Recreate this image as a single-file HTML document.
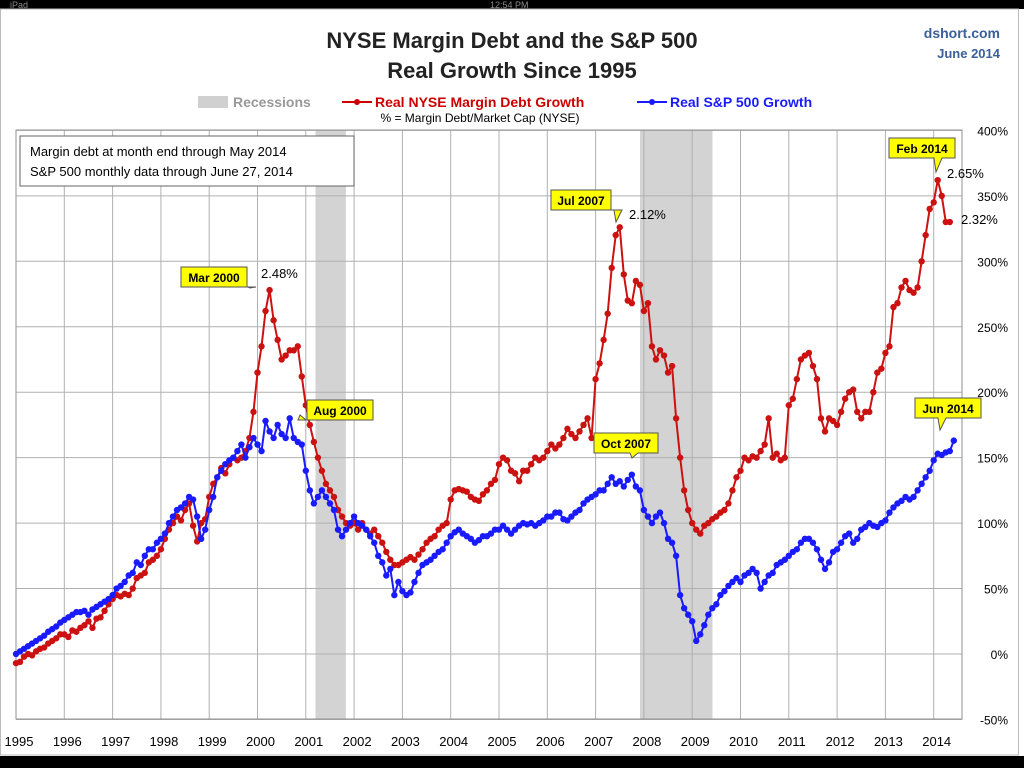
<!DOCTYPE html>
<html><head><meta charset="utf-8"><style>
html,body{margin:0;padding:0;width:1024px;height:768px;overflow:hidden;background:#fff;font-family:"Liberation Sans",sans-serif}
</style></head><body>
<svg id="chart" width="1024" height="768" xmlns="http://www.w3.org/2000/svg" font-family="Liberation Sans, sans-serif">
<rect x="0" y="0" width="1024" height="9" fill="#000"/>
<text x="10" y="8" font-size="9" fill="#888">iPad</text>
<text x="490" y="8" font-size="9" fill="#888">12:54 PM</text>
<rect x="0" y="756" width="1024" height="12" fill="#000"/>
<rect x="0.5" y="9" width="1018" height="746" fill="none" stroke="#bbb"/>
<text x="512" y="48" text-anchor="middle" font-size="22" font-weight="bold" fill="#222">NYSE Margin Debt and the S&amp;P 500</text>
<text x="512" y="78" text-anchor="middle" font-size="22" font-weight="bold" fill="#222">Real Growth Since 1995</text>
<text x="1000" y="38" text-anchor="end" font-size="14" font-weight="bold" fill="#3a5f9a">dshort.com</text>
<text x="1000" y="58" text-anchor="end" font-size="13" font-weight="bold" fill="#3a5f9a">June 2014</text>
<g>
<rect x="198" y="96" width="30" height="12" fill="#d0d0d0"/>
<text x="233" y="107" font-size="14" font-weight="bold" fill="#999">Recessions</text>
<line x1="342" y1="102" x2="372" y2="102" stroke="#c00" stroke-width="2"/><circle cx="357" cy="102" r="3" fill="#c00"/>
<text x="375" y="107" font-size="14" font-weight="bold" fill="#c00">Real NYSE Margin Debt Growth</text>
<line x1="637" y1="102" x2="667" y2="102" stroke="#1a1aff" stroke-width="2"/><circle cx="652" cy="102" r="3" fill="#1a1aff"/>
<text x="670" y="107" font-size="14" font-weight="bold" fill="#1a1aff">Real S&amp;P 500 Growth</text>
</g>
<text x="480" y="122" text-anchor="middle" font-size="12" fill="#000">% = Margin Debt/Market Cap (NYSE)</text>
<g id="plot"></g>
</svg>
<script>
const years=[1995,1996,1997,1998,1999,2000,2001,2002,2003,2004,2005,2006,2007,2008,2009,2010,2011,2012,2013,2014];
const yTicks=[-50,0,50,100,150,200,250,300,350,400];
const recessions=[[2001.2,2001.83],[2007.92,2009.42]];
const marginDebt=[
-7,-6,-2,0,-1,2,4,5,8,10,12,15,
15,13,18,17,20,22,25,20,27,28,33,38,
42,45,44,46,45,50,58,60,62,70,72,75,
80,88,95,100,105,102,110,115,98,86,100,103,
120,130,135,142,138,145,150,148,150,155,165,185,
215,235,262,278,255,240,225,228,232,232,235,212,
190,175,162,150,140,130,125,120,110,105,100,98,
100,95,100,95,92,95,90,85,78,72,68,68,
70,72,74,72,76,80,85,88,90,95,98,100,
118,125,126,125,124,120,118,117,122,125,130,133,
145,150,148,140,138,132,140,140,145,150,148,150,
155,160,157,160,165,172,168,165,170,175,180,165,
210,222,240,260,295,320,326,290,270,268,285,282,
262,268,235,225,232,228,215,220,180,150,125,110,
100,95,92,98,100,103,105,108,110,115,125,135,
140,150,148,151,150,155,160,180,150,153,148,150,
190,195,210,225,228,230,220,210,180,170,180,178,
175,185,195,200,202,185,180,185,185,200,215,218,
230,235,265,268,280,285,278,276,280,300,320,340,
345,362,350,330,330];
const sp500=[
0,2,4,6,8,10,12,14,17,19,21,24,
26,28,30,32,32,33,30,34,36,38,40,42,
45,50,52,55,60,62,70,68,75,80,80,85,
88,92,100,105,110,112,115,120,118,105,88,95,
110,120,135,140,145,148,150,155,160,150,158,165,
160,155,178,170,165,175,168,165,180,165,162,160,
140,125,115,120,125,120,115,110,95,90,95,100,
105,100,98,95,90,85,75,70,60,65,45,55,
48,45,47,55,62,68,70,72,75,78,80,85,
90,93,95,92,90,88,85,87,90,90,92,95,
95,98,95,92,95,98,100,99,100,98,100,102,
105,105,108,108,103,102,105,108,110,115,118,120,
122,125,125,130,135,130,132,128,133,137,128,125,
110,105,100,105,108,100,88,85,75,45,35,30,
25,10,15,22,30,35,38,45,48,52,55,58,
55,60,62,65,62,50,55,60,62,68,70,72,
75,78,80,85,88,88,85,80,72,65,70,78,
80,85,90,92,85,88,95,97,100,98,97,100,
102,108,112,115,117,120,118,120,125,130,135,140,
148,153,152,154,155,163];
const NS="http://www.w3.org/2000/svg";
const L=16,R=962,T=130,B=719;
const X=t=>L+(t-1995)*48.3;
const Y=v=>654-v*1.309;
const g=document.getElementById('plot');
function mk(tag,a,parent){const e=document.createElementNS(NS,tag);for(const k in a)e.setAttribute(k,a[k]);(parent||g).appendChild(e);return e;}
recessions.forEach(r=>{const e=mk('rect',{x:X(r[0]),y:T,width:X(r[1])-X(r[0]),height:B-T,fill:'#d3d3d3'});

});
yTicks.forEach(v=>{const e=mk('line',{x1:L,x2:R,y1:Y(v),y2:Y(v),stroke:'#b0b0b0','stroke-width':1});


const t=mk('text',{x:1008,y:Y(v)+5,'text-anchor':'end','font-size':12,fill:'#000'});t.textContent=v+'%';

});
years.forEach(y=>{const e=mk('line',{x1:X(y),x2:X(y),y1:T,y2:B,stroke:'#b0b0b0','stroke-width':1});


const t=mk('text',{x:X(y)+3,y:746,'text-anchor':'middle','font-size':13,fill:'#000'});t.textContent=y;

});
mk('rect',{x:L,y:T,width:R-L,height:B-T,fill:'none',stroke:'#909090'});
function series(data,color,name){
const pts=data.map((v,i)=>[X(1995+i/12),Y(v)]);
const p=mk('polyline',{points:pts.map(p=>p.join(',')).join(' '),fill:'none',stroke:color,'stroke-width':2});


pts.forEach(q=>{const c=mk('circle',{cx:q[0],cy:q[1],r:3.2,fill:color});

});}
series(marginDebt,'#cc1111','margin-debt');
series(sp500,'#1a1aff','sp500');
const ib=mk('rect',{x:20,y:136,width:334,height:50,fill:'#fff',stroke:'#666'});


[['Margin debt at month end through May 2014',156],['S&P 500 monthly data through June 27, 2014',176]].forEach(a=>{const t=mk('text',{x:30,y:a[1],'font-size':13,fill:'#000'});t.textContent=a[0];

});
function callout(label,x,y,px,py,w){
const s=mk('polygon',{points:`${x},${y} ${x+w},${y} ${x+w},${y+20} ${px+6},${y+20} ${px},${py} ${px-2},${y+20} ${x},${y+20}`,fill:'#ffff00',stroke:'#555'});


const t=mk('text',{x:x+w/2,y:y+15,'text-anchor':'middle','font-size':12,'font-weight':'bold',fill:'#000'});t.textContent=label;

}
callout('Mar 2000',181,267,250,288,66);
callout('Aug 2000',307,400,300,415,66);
callout('Jul 2007',551,190,616,222,60);
callout('Oct 2007',594,433,632,458,64);
callout('Feb 2014',889,138,936,172,66);
callout('Jun 2014',915,398,940,430,66);
[['2.48%',261,278],['2.12%',629,219],['2.65%',947,178],['2.32%',961,224]].forEach(a=>{const t=mk('text',{x:a[1],y:a[2],'font-size':13,fill:'#000'});t.textContent=a[0];

});
</script>
</body></html>
